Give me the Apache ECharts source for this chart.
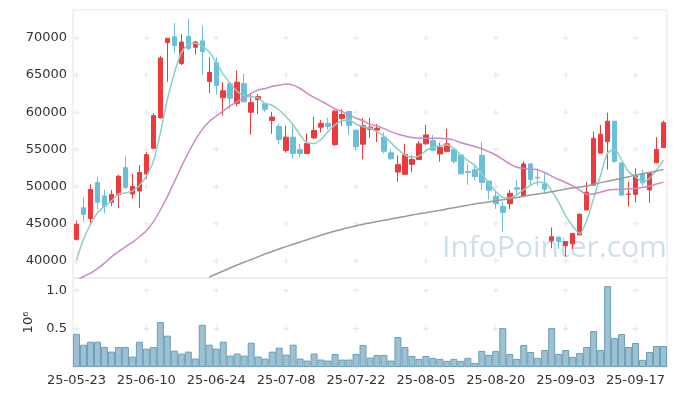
<!DOCTYPE html>
<html><head><meta charset="utf-8">
<script src="https://cdn.jsdelivr.net/npm/echarts@6/dist/echarts.min.js"></script>
<style>html,body{margin:0;padding:0;background:#fff}#c{width:677px;height:396px}</style>
</head><body><div id="c"></div>
<script>
const dates = ['25-05-23','25-05-26','25-05-27','25-05-28','25-05-29','25-05-30','25-06-02','25-06-04','25-06-05','25-06-09',
'25-06-10','25-06-11','25-06-12','25-06-13','25-06-16','25-06-17','25-06-18','25-06-19','25-06-20','25-06-23',
'25-06-24','25-06-25','25-06-26','25-06-27','25-06-30','25-07-01','25-07-02','25-07-03','25-07-04','25-07-07',
'25-07-08','25-07-09','25-07-10','25-07-11','25-07-14','25-07-15','25-07-16','25-07-17','25-07-18','25-07-21',
'25-07-22','25-07-23','25-07-24','25-07-25','25-07-28','25-07-29','25-07-30','25-07-31','25-08-01','25-08-04',
'25-08-05','25-08-06','25-08-07','25-08-08','25-08-11','25-08-12','25-08-13','25-08-14','25-08-18','25-08-19',
'25-08-20','25-08-21','25-08-22','25-08-25','25-08-26','25-08-27','25-08-28','25-08-29','25-09-01','25-09-02',
'25-09-03','25-09-04','25-09-05','25-09-08','25-09-09','25-09-10','25-09-11','25-09-12','25-09-15','25-09-16',
'25-09-17','25-09-18','25-09-19','25-09-22','25-09-23'];

const open  = [42900,47150,45700,50550,48750,47900,48900,52550,49000,49400,51700,55150,59250,69400,70150,66550,70200,68750,69600,64150,
66700,61950,63850,61200,63850,60000,61700,61150,58900,58100,54850,56650,55000,54450,56550,58000,58500,55650,59150,60100,
57600,55700,57700,57600,56650,54550,51950,51650,53000,53650,55750,56200,54400,54750,55000,54250,52000,52250,54200,50750,
48700,47350,47700,49850,48750,53050,51250,50350,42700,43200,42050,42300,43500,46850,50200,54500,56050,58800,53200,48950,
48950,51700,49550,53200,55250];
const close = [44900,46250,49600,47900,47350,48950,51400,49900,50000,51900,54300,59550,67300,69950,68950,69450,68600,69450,68150,65350,
63600,62900,61900,64050,61400,61300,62100,60400,59350,56350,56650,54450,54450,55800,57550,58500,58100,60150,59700,58250,
55350,58200,58000,57850,54750,53750,52950,54300,53650,55750,56950,54900,55300,55750,53400,51700,51900,51350,50550,49500,
47700,46500,49100,49650,53050,50950,51150,49650,43250,42600,42600,43700,46300,49250,56500,57050,58800,53350,48850,49000,
51450,50500,51800,55000,58600];
const low   = [42750,45250,44750,46900,46400,47350,47100,49600,48350,47100,51050,55050,59150,64100,67950,66350,68400,67750,65050,62600,
62350,59550,60450,60800,61300,57000,59750,60050,57100,55750,54550,53750,54000,54400,56400,57300,57650,55450,58200,57000,
54900,53650,56550,56000,54450,53550,50650,51650,51950,53650,55650,54750,53350,54650,53050,51700,50250,50850,49550,48250,
47000,43900,47000,49050,48550,50100,50150,49000,41700,41600,40550,41600,43500,46850,50100,54500,52300,53350,48850,47300,
47850,50100,47850,53150,55250];
const high  = [45450,48500,50300,51350,49550,49550,51600,54050,51700,52900,54650,59900,67550,70000,72000,70500,72600,69600,71650,67400,
67400,64050,63850,65600,65150,62400,62450,61150,60050,58450,58200,58450,55750,57150,59400,58950,59250,60300,60450,60100,
57600,59250,59250,58450,57300,55100,54200,55750,54200,56100,58300,56950,55900,57800,55000,54250,53100,52750,56000,50750,
49300,48000,49550,50900,53400,53100,52450,51800,44500,43200,42600,43700,46300,50650,57400,58300,59950,58800,53200,50650,
52450,52300,51800,56650,58850];
const volume = [433000,291000,330000,330000,261000,200000,261000,261000,136000,330000,239000,261000,585000,408000,213000,175000,200000,110000,550000,291000,
239000,330000,149000,175000,149000,317000,136000,110000,200000,252000,162000,291000,110000,84000,175000,97000,84000,170000,97000,97000,
170000,287000,123000,157000,157000,84000,390000,261000,144000,106000,144000,119000,106000,80000,106000,80000,119000,54000,210000,157000,
210000,507000,170000,106000,287000,196000,119000,222000,507000,170000,222000,132000,183000,261000,468000,222000,1054000,377000,429000,261000,
313000,93000,196000,274000,274000];
const ma5 = [40150,42900,44900,46450,47350,48050,49000,49150,49400,50150,51400,53400,57200,61700,65250,68000,69100,69300,68900,68100,
66700,65100,63900,62800,62200,62100,61900,61200,60950,60300,59400,58300,56950,55900,55800,56350,57400,58300,58850,58950,
58400,58050,57850,57400,56800,55900,55000,54250,53950,54100,54850,55300,55500,55600,55150,54250,53500,52850,51700,50500,
49350,48550,48450,48900,49600,50200,50600,50550,49400,47900,46050,44700,43700,45400,48400,51550,54500,55000,53600,52000,
51350,50650,51100,52250,53600];
const ma20 = [37300,37900,38350,38950,39700,40550,41250,41900,42500,43250,44050,45250,46850,48650,50650,52650,54550,56250,57700,58750,
59500,60200,60850,61400,62000,62550,63000,63200,63500,63650,63800,63650,63200,62550,62000,61500,61000,60450,60100,59650,
59200,58850,58400,58150,57800,57400,57050,56800,56600,56500,56500,56500,56500,56450,56250,55900,55650,55400,55100,54700,
54250,53650,53050,52600,52450,52350,52250,51900,51400,50950,50550,50100,49550,48950,49000,49250,49500,49600,49650,49700,
49750,49900,50050,50350,50600];
const maLong = [null,null,null,null,null,null,null,null,null,null,null,null,null,null,null,null,null,null,null,37835,
38240,38640,39045,39450,39825,40190,40565,40930,41265,41600,41925,42250,42545,42855,43160,43460,43755,44025,44265,44495,
44725,44925,45115,45290,45465,45640,45815,45990,46180,46340,46490,46650,46810,46985,47160,47335,47500,47660,47790,47925,
48090,48235,48385,48545,48705,48870,49000,49140,49300,49490,49675,49810,49945,50080,50320,50535,50725,50915,51100,51330,
51530,51720,51910,52095,52300];
const priceTicks = [40000,45000,50000,55000,60000,65000,70000];
const volTicks = [500000,1000000];
const labelEvery = 10;

const candleData = dates.map((d,i)=>[open[i],close[i],low[i],high[i]]);
const crossPrice = [], crossVol = [];
dates.forEach((d,i)=>{ if(i%labelEvery===0){ priceTicks.forEach(p=>crossPrice.push([d,p])); volTicks.forEach(v=>crossVol.push([d,v])); }});
const plus = 'path://M2,0L3,0L3,2L5,2L5,3L3,3L3,5L2,5L2,3L0,3L0,2L2,2Z';
const font = 'DejaVu Sans';

const chart = echarts.init(document.getElementById('c'), null, {renderer:'canvas'});
chart.setOption({
  animation:false,
  backgroundColor:'#fff',
  textStyle:{fontFamily:font},
  grid:[
    {left:73,right:10,top:10,height:268,show:true,borderColor:'#e6e6e6',borderWidth:1,backgroundColor:'transparent'},
    {left:73,right:10,top:278,height:89,show:true,borderColor:'#e6e6e6',borderWidth:1,backgroundColor:'transparent'}
  ],
  graphic:[{type:'text',left:442,top:233,z:0,silent:true,
    style:{text:'InfoPointer.com',font:'normal 30px "Open Sans"',fill:'rgba(150,188,208,0.48)'}}],
  xAxis:[
    {type:'category',gridIndex:0,data:dates,boundaryGap:true,axisLine:{show:false},axisTick:{show:false},axisLabel:{show:false},splitLine:{show:false}},
    {type:'category',gridIndex:1,data:dates,boundaryGap:true,axisLine:{show:false},axisTick:{show:false},
     axisLabel:{interval:labelEvery-1,color:'#333',fontSize:13,fontFamily:font,margin:7},splitLine:{show:false}}
  ],
  yAxis:[
    {type:'value',gridIndex:0,min:37700,max:73760,splitNumber:7,scale:true,
     axisLine:{show:false},axisTick:{show:false},splitLine:{show:false},
     axisLabel:{color:'#333',fontSize:13,fontFamily:font,margin:6,showMinLabel:false,showMaxLabel:false,
       formatter:v=>String(Math.round(v))}},
    {type:'value',gridIndex:1,min:0,max:1160000,splitNumber:2,
     name:'10\u2076',nameLocation:'middle',nameRotate:90,nameGap:38,nameTextStyle:{color:'#333',fontSize:13,fontFamily:font},
     axisLine:{show:false},axisTick:{show:false},splitLine:{show:false},
     axisLabel:{color:'#333',fontSize:13,fontFamily:font,margin:6,showMinLabel:false,showMaxLabel:false,
       formatter:v=>(v/1e6).toFixed(1)}}
  ],
  series:[
    {type:'scatter',xAxisIndex:0,yAxisIndex:0,data:crossPrice,symbol:plus,symbolSize:6,silent:true,z:1,
     itemStyle:{color:'#e2e2e2'}},
    {type:'scatter',xAxisIndex:1,yAxisIndex:1,data:crossVol,symbol:plus,symbolSize:6,silent:true,z:1,
     itemStyle:{color:'#e2e2e2'}},
    {type:'candlestick',xAxisIndex:0,yAxisIndex:0,data:candleData,barWidth:5,z:3,
     itemStyle:{color:'#ec3a3d',color0:'#6ac0d7',borderColor:'#ec3a3d',borderColor0:'#6ac0d7',borderWidth:1}},
    {type:'line',xAxisIndex:0,yAxisIndex:0,data:ma5,smooth:0.3,symbol:'none',z:4,
     lineStyle:{color:'#8ccfc4',width:1.5}},
    {type:'line',xAxisIndex:0,yAxisIndex:0,data:ma20,smooth:0.3,symbol:'none',z:4,
     lineStyle:{color:'#c98bc5',width:1.5}},
    {type:'line',xAxisIndex:0,yAxisIndex:0,data:maLong,smooth:0.3,symbol:'none',z:4,
     lineStyle:{color:'#9a9a9a',width:1.5}},
    {type:'bar',xAxisIndex:1,yAxisIndex:1,data:volume,barCategoryGap:'0%',z:3,
     itemStyle:{color:'rgba(105,160,186,0.65)',borderColor:'#6a9fb8',borderWidth:1}}
  ]
});
</script></body></html>
